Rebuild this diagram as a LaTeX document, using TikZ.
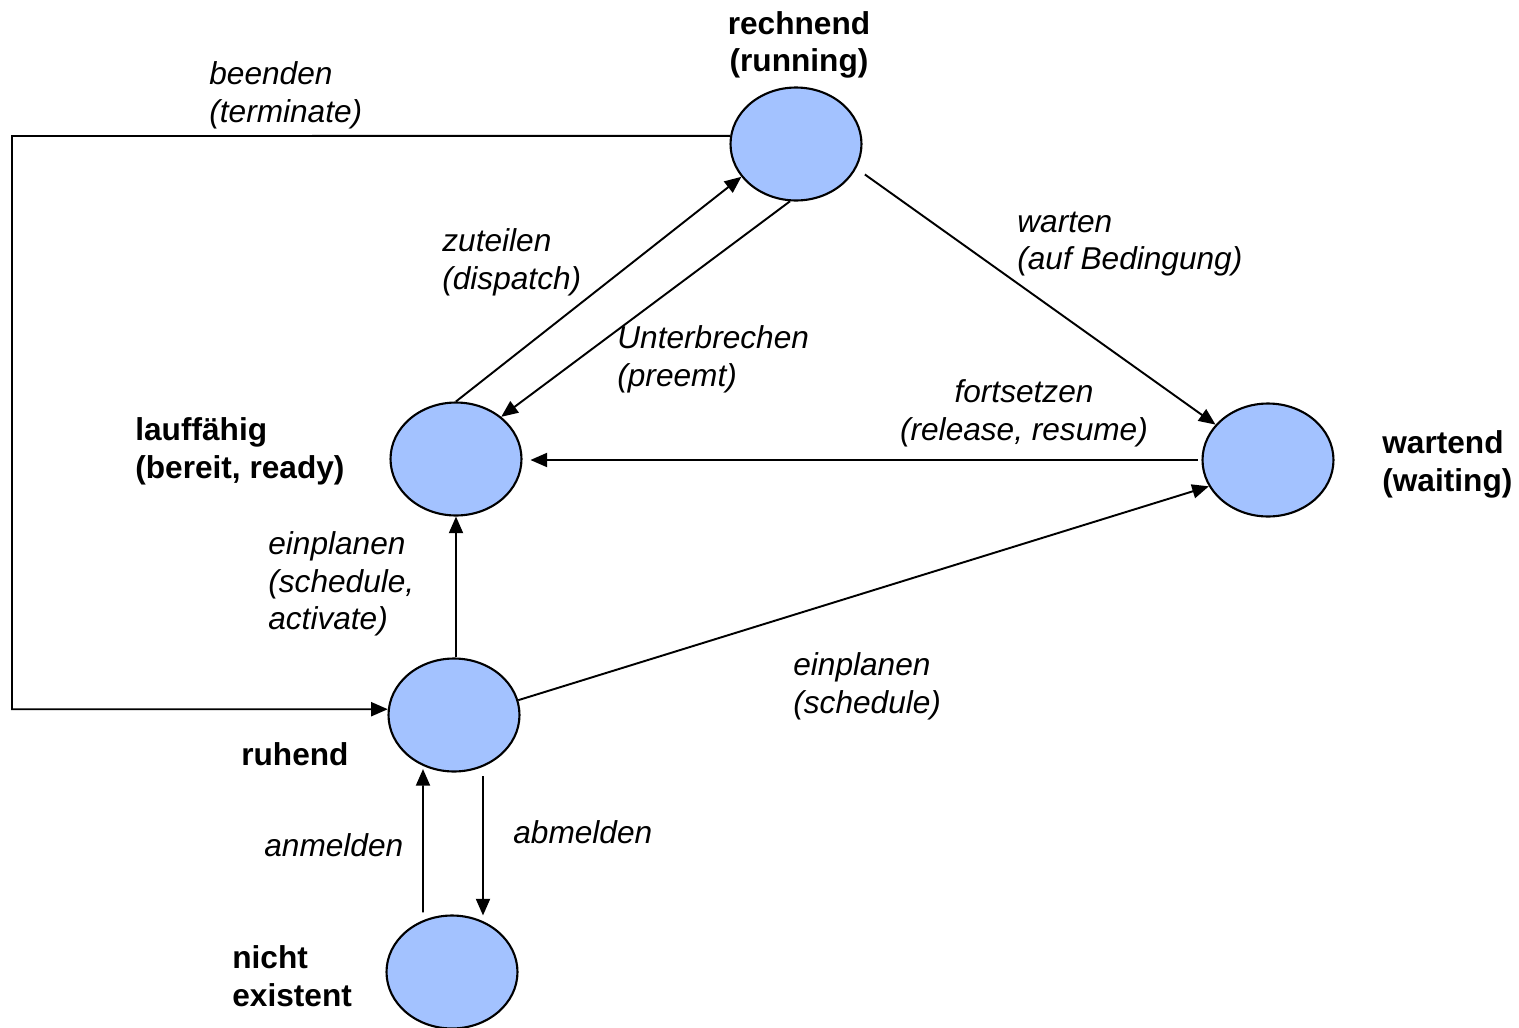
\documentclass[tikz,border=0pt]{standalone}
\usepackage{fontspec}
\setmainfont{Liberation Sans}
\usetikzlibrary{shapes.geometric,arrows.meta}
\definecolor{statefill}{RGB}{163,194,255}

\begin{document}
\begin{tikzpicture}[x=0.02cm,y=-0.02cm,
    state/.style={ellipse,draw,line width=1.2pt,fill=statefill,minimum width=2.62cm,minimum height=2.26cm,inner sep=0pt},
    statename/.style={font=\fontsize{18}{21.5}\selectfont\bfseries,align=left,inner sep=0pt},
    translabel/.style={font=\fontsize{18}{21.5}\selectfont\itshape,align=left,inner sep=0pt},
    arr/.style={-{Triangle[length=9.5pt,width=8pt]},line width=1.1pt}]
    \useasboundingbox (0,0) rectangle (1519,1028);

    % states
    \node[state] (running) at (796,144) {};
    \node[state] (ready) at (456,459) {};
    \node[state] (waiting) at (1268,460) {};
    \node[state] (resting) at (454,715) {};
    \node[state] (none) at (452,972) {};

    % state names
    \node[statename,align=center] (runninglbl) at (799,45) {rechnend\\(running)};
    \node[statename,anchor=west] (readylbl) at (135,451) {lauff\"ahig\\(bereit, ready)};
    \node[statename,anchor=west] (waitinglbl) at (1382,464) {wartend\\(waiting)};
    \node[statename,anchor=west] (restinglbl) at (241,754) {ruhend};
    \node[statename,anchor=west] (nonelbl) at (232,976) {nicht\\existent};

    % transitions
    \coordinate (corner) at (12,136);
    \draw[arr] (running.173) -- (corner) |- (resting.175);
    \draw[arr] (ready.north) -- (running.211);
    \draw[arr] (running.264) -- (ready.43);
    \draw[arr,shorten <=6pt] (running.338) -- (waiting.146);
    \draw[arr,shorten <=2pt,shorten >=4.5pt] (waiting.west) -- (waiting.west -| ready.east);
    \draw[arr] (ready.south |- resting.north) -- (ready.south);
    \draw[arr] (resting.13) -- (waiting.204);
    \draw[arr] ([xshift=-0.58cm,yshift=0.04cm]none.north) -- ([xshift=-0.62cm,yshift=0.07cm]resting.south);
    \draw[arr] ([xshift=0.58cm,yshift=-0.07cm]resting.south) -- ([xshift=0.62cm,yshift=-0.02cm]none.north);

    % transition labels
    \node[translabel,anchor=west] (termlbl) at (209,95) {beenden\\(terminate)};
    \node[translabel,anchor=west] (displbl) at (442,262) {zuteilen\\(dispatch)};
    \node[translabel,anchor=west] (preemlbl) at (617,359) {Unterbrechen\\(preemt)};
    \node[translabel,anchor=west] (waitlbl) at (1017,244) {warten\\(auf Bedingung)};
    \node[translabel,align=center] (resumelbl) at (1024,413) {fortsetzen\\(release, resume)};
    \node[translabel,anchor=west] (activlbl) at (268,584) {einplanen\\(schedule,\\activate)};
    \node[translabel,anchor=west] (schedlbl) at (793,686) {einplanen\\(schedule)};
    \node[translabel,anchor=west] (anmlbl) at (264,845) {anmelden};
    \node[translabel,anchor=west] (abmlbl) at (513,832) {abmelden};
\end{tikzpicture}
\end{document}
